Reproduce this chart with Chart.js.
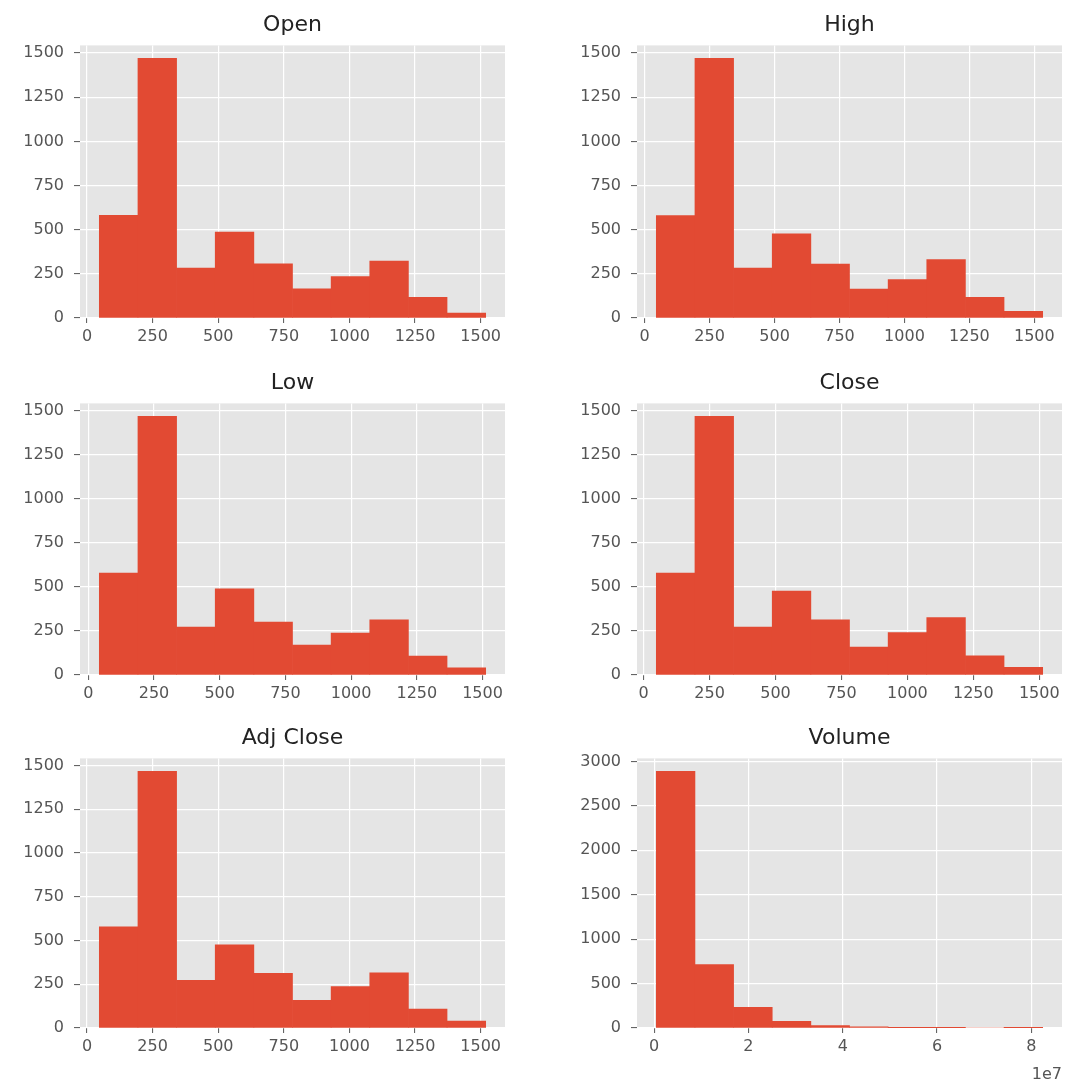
<!DOCTYPE html>
<html>
<head>
<meta charset="utf-8">
<script src="https://cdn.jsdelivr.net/npm/chart.js@4"></script>
<style>
  html, body { margin: 0; padding: 0; background: #ffffff; }
  body { width: 1065px; height: 1086px; position: relative; overflow: hidden; }
  .panel { position: absolute; }
</style>
</head>
<body>
<div class="panel" id="p0" style="left:0px;top:0px;"><canvas id="c0" width="530" height="358"></canvas></div>
<div class="panel" id="p1" style="left:555px;top:0px;"><canvas id="c1" width="510" height="358"></canvas></div>
<div class="panel" id="p2" style="left:0px;top:358px;"><canvas id="c2" width="530" height="357"></canvas></div>
<div class="panel" id="p3" style="left:555px;top:358px;"><canvas id="c3" width="510" height="357"></canvas></div>
<div class="panel" id="p4" style="left:0px;top:713px;"><canvas id="c4" width="530" height="373"></canvas></div>
<div class="panel" id="p5" style="left:555px;top:713px;"><canvas id="c5" width="510" height="373"></canvas></div>
<script>
// ---- Data (histogram counts per bin, 10 bins each) ----
const panelTitles = ["Open", "High", "Low", "Close", "Adj Close", "Volume"];

const openCounts     = [581, 1470, 282, 487, 307, 165, 235, 322, 117, 28];
const highCounts     = [580, 1470, 282, 476, 306, 164, 217, 331, 117, 38];
const lowCounts      = [578, 1467, 272, 488, 300, 169, 238, 313, 107, 41];
const closeCounts    = [578, 1467, 272, 476, 313, 159, 240, 325, 109, 43];
const adjCloseCounts = [578, 1467, 272, 475, 312, 158, 236, 315, 108, 40];
const volumeCounts   = [2890, 715, 233, 74, 28, 12, 2, 1, 0, 1];

// data range (min, max) of each column -> histogram bin edges
const openRange     = [47, 1519];
const highRange     = [45, 1532];
const lowRange      = [42, 1512];
const closeRange    = [48, 1513];
const adjCloseRange = [47, 1519];
const volumeRange   = [465600, 82400000];

// tick labels
const priceXTicks  = [0, 250, 500, 750, 1000, 1250, 1500];
const priceYTicks  = [0, 250, 500, 750, 1000, 1250, 1500];
const volumeXTicks = [0, 20000000, 40000000, 60000000, 80000000];
const volumeYTicks = [0, 500, 1000, 1500, 2000, 2500, 3000];
const volumeXLabels = ["0", "2", "4", "6", "8"];
const volumeOffsetText = "1e7";

// ---- Styling ----
const FONT = "'DejaVu Sans', 'Liberation Sans', sans-serif";
const BAR_COLOR = "#E24A33";
const AXES_BG = "#E5E5E5";
const TICK_COLOR = "#555555";

const bgPlugin = {
  id: "axesBg",
  beforeDraw(chart) {
    const a = chart.chartArea;
    const ctx = chart.ctx;
    ctx.save();
    ctx.fillStyle = AXES_BG;
    ctx.fillRect(a.left, a.top, a.right - a.left, a.bottom - a.top);
    ctx.restore();
  }
};

function makePanel(canvasId, title, counts, range, xTicks, yTicks, opts) {
  const nb = counts.length;
  const w = (range[1] - range[0]) / nb;
  const data = counts.map((c, i) => ({ x: range[0] + (i + 0.5) * w, y: c }));
  const span = range[1] - range[0];
  const xmin = range[0] - 0.05 * span;
  const xmax = range[1] + 0.05 * span;
  const ymax = Math.max(...counts) * 1.05;

  const xScale = {
    type: "linear",
    min: xmin,
    max: xmax,
    offset: false,
    grid: { offset: false, color: "#FFFFFF", lineWidth: 1.2, tickColor: TICK_COLOR, tickLength: 5, tickWidth: 1 },
    border: { display: false },
    ticks: {
      color: TICK_COLOR,
      font: { family: FONT, size: 16 },
      padding: 4,
      maxRotation: 0,
      autoSkip: false,
      callback: opts.xLabel ? (v) => opts.xLabel(v) : (v) => String(v)
    },
    afterBuildTicks(scale) { scale.ticks = xTicks.map(v => ({ value: v })); },
    afterFit(scale) { scale.height = opts.xHeight; }
  };
  if (opts.xTitle) {
    xScale.title = {
      display: true, text: opts.xTitle, align: "end",
      color: TICK_COLOR, font: { family: FONT, size: 16 },
      padding: { top: 0, bottom: 2 }
    };
  }

  return new Chart(document.getElementById(canvasId), {
    type: "bar",
    data: {
      datasets: [{
        data: data,
        backgroundColor: BAR_COLOR,
        borderWidth: 0,
        barPercentage: 1.0,
        categoryPercentage: 1.0,
        grouped: false
      }]
    },
    options: {
      responsive: false,
      animation: false,
      devicePixelRatio: 1,
      layout: { padding: { left: 0, right: opts.padRight, top: 0, bottom: 0 } },
      plugins: {
        legend: { display: false },
        tooltip: { enabled: false },
        title: {
          display: true, text: title, fullSize: false,
          color: "#222222",
          font: { family: FONT, size: 22, weight: "normal" },
          padding: { top: 12, bottom: 7 }
        }
      },
      scales: {
        x: xScale,
        y: {
          type: "linear",
          min: 0,
          max: ymax,
          grid: { offset: false, color: "#FFFFFF", lineWidth: 1.2, tickColor: TICK_COLOR, tickLength: 6, tickWidth: 1 },
          border: { display: false },
          ticks: { color: TICK_COLOR, font: { family: FONT, size: 16 }, padding: 10, callback: (v) => String(v) },
          afterBuildTicks(scale) { scale.ticks = yTicks.map(v => ({ value: v })); },
          afterFit(scale) { scale.width = opts.yWidth; }
        }
      }
    },
    plugins: [bgPlugin]
  });
}

const leftOpts  = { yWidth: 80, padRight: 25, xHeight: 40 };
const rightOpts = { yWidth: 82, padRight: 3, xHeight: 40 };

makePanel("c0", panelTitles[0], openCounts, openRange, priceXTicks, priceYTicks, leftOpts);
makePanel("c1", panelTitles[1], highCounts, highRange, priceXTicks, priceYTicks, rightOpts);
makePanel("c2", panelTitles[2], lowCounts, lowRange, priceXTicks, priceYTicks, leftOpts);
makePanel("c3", panelTitles[3], closeCounts, closeRange, priceXTicks, priceYTicks, rightOpts);
makePanel("c4", panelTitles[4], adjCloseCounts, adjCloseRange, priceXTicks, priceYTicks,
  { yWidth: 80, padRight: 25, xHeight: 58 });
makePanel("c5", panelTitles[5], volumeCounts, volumeRange, volumeXTicks, volumeYTicks,
  { yWidth: 82, padRight: 3, xHeight: 58,
    xTitle: volumeOffsetText,
    xLabel: (v) => { const i = volumeXTicks.indexOf(v); return i >= 0 ? volumeXLabels[i] : ""; } });
</script>
</body>
</html>
